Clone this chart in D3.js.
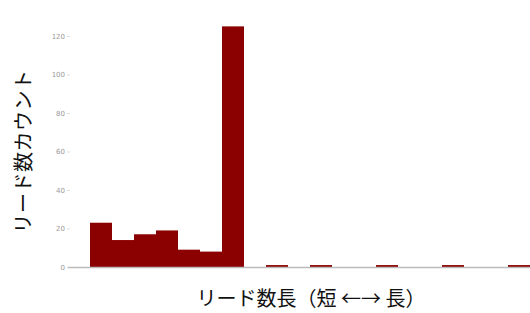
<!DOCTYPE html>
<html>
<head>
<meta charset="utf-8">
<script src="https://cdn.jsdelivr.net/npm/d3@7"></script>
<style>
  body { margin: 0; background: #fff; }
  svg { display: block; }
</style>
</head>
<body>
<svg id="chart" width="530" height="313"></svg>
<script>
// histogram counts, one per bin (20 bins, short -> long)
const binIndex = d3.range(20);
const counts = [23, 14, 17, 19, 9, 8, 125, 0, 1, 0, 1, 0, 0, 1, 0, 0, 1, 0, 0, 1];
const yTicks = [0, 20, 40, 60, 80, 100, 120];
const yTitle = "リード数カウント";
const xTitle = "リード数長（短 ←→ 長）";

const svg = d3.select("#chart");
const m = { left: 90, right: 0, top: 36, bottom: 46 };
const W = 530, H = 313;

const x = d3.scaleLinear().domain([0, counts.length]).range([m.left, W - m.right]);
const y = d3.scaleLinear().domain([0, 120]).range([H - m.bottom, m.top]);

// y axis, labels only
const yAxis = svg.append("g")
  .attr("transform", `translate(70,0)`)
  .call(d3.axisLeft(y).tickValues(yTicks).tickSize(3).tickPadding(2));
yAxis.select(".domain").remove();
yAxis.selectAll(".tick line").attr("stroke", "#ddd");
yAxis.selectAll(".tick text")
  .attr("fill", "#999")
  .style("font", "7px 'DejaVu Sans', sans-serif");

// bars
svg.append("g")
  .selectAll("rect")
  .data(binIndex)
  .join("rect")
  .attr("x", (i) => x(i))
  .attr("width", (i) => x(i + 1) - x(i))
  .attr("y", (i) => y(counts[i]))
  .attr("height", (i) => y(0) - y(counts[i]))
  .attr("fill", "#8b0000");

// baseline
svg.append("line")
  .attr("x1", 68).attr("x2", W)
  .attr("y1", y(0) + 0.5).attr("y2", y(0) + 0.5)
  .attr("stroke", "#bbb")
  .attr("stroke-width", 1.5);

svg.append("text")
  .attr("transform", `translate(31,${(m.top + H - m.bottom) / 2}) rotate(-90)`)
  .attr("text-anchor", "middle")
  .attr("fill", "#111")
  .style("font", "20px 'Noto Sans CJK JP', sans-serif")
  .style("letter-spacing", "0.5px")
  .text(yTitle);

svg.append("text")
  .attr("x", 311)
  .attr("y", 306)
  .attr("text-anchor", "middle")
  .attr("fill", "#111")
  .style("font", "20px 'Noto Sans CJK JP', sans-serif")
  .text(xTitle);
</script>
</body>
</html>
